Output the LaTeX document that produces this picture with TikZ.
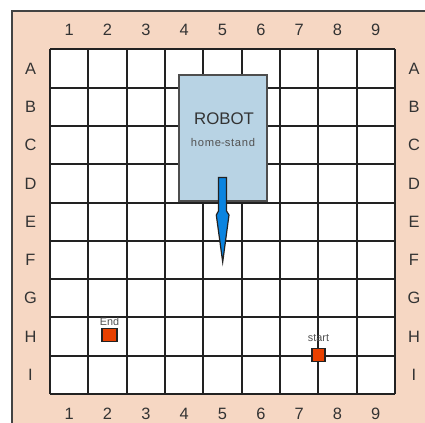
\documentclass[tikz,border=0pt]{standalone}
\usepackage{fontspec}
\setmainfont{Liberation Sans}
\usepackage{tikz}
\usetikzlibrary{positioning}
\definecolor{framepeach}{HTML}{F6D7C3}
\definecolor{robotblue}{HTML}{B8D3E4}
\definecolor{arrowblue}{HTML}{0A84E0}
\definecolor{markred}{HTML}{E84000}
\definecolor{inkgrey}{HTML}{222222}
\definecolor{textgrey}{HTML}{333333}

\begin{document}
\begin{tikzpicture}[
      x=0.5pt, y=-0.5pt,
      gridline/.style={draw=inkgrey, line width=1pt},
      axislabel/.style={inner sep=0pt, text=textgrey, font=\fontsize{8.2}{9}\selectfont},
      robotbox/.style={
        draw=inkgrey!80,
        fill=robotblue,
        line width=0.8pt,
        minimum width=44pt,
        minimum height=63pt,
        inner sep=0pt
      },
      marker/.style={
        draw=inkgrey,
        fill=markred,
        line width=0.7pt,
        inner sep=0pt
      },
      smalltext/.style={inner sep=0pt, text=textgrey!85, font=\fontsize{5.4}{6}\selectfont}
    ]

    \useasboundingbox (0,0) rectangle (425,423);

    % frame
    \fill[framepeach] (12,11) rectangle (425,423);
    \draw[inkgrey!85, line width=0.8pt] (12,423) -- (12,11) -- (425,11);

    % board
    \fill[white] (50,49.5) rectangle (395,394);
    \foreach \k in {0,...,9} {
      \draw[gridline] ({50+38.33*\k},49.5) -- ({50+38.33*\k},394);
      \draw[gridline] (50,{49.5+38.28*\k}) -- (395,{49.5+38.28*\k});
    }

    % column numbers
    \foreach \i in {1,...,9} {
      \node[axislabel] (top\i) at ({50+38.33*(\i-0.5)},30) {\i};
      \node[axislabel] (bot\i) at ({50+38.33*(\i-0.5)},413.5) {\i};
    }

    % row letters
    \foreach \r [count=\j] in {A,B,C,D,E,F,G,H,I} {
      \node[axislabel] (left\r) at (30.5,{49.5+38.28*(\j-0.5)}) {\r};
      \node[axislabel] (right\r) at (414,{49.5+38.28*(\j-0.5)}) {\r};
    }

    % robot home stand
    \node[robotbox] (robot) at (223,138) {};
    \node[inner sep=0pt, text=textgrey, font=\fontsize{8.4}{9}\selectfont]
      (robottitle) at (224,118.5) {ROBOT};
    \node[inner sep=0pt, text=textgrey!85, font=\fontsize{5.6}{6}\selectfont]
      (robotsub) at (223,142.5) {h\kern0.35pt o\kern0.35pt m\kern0.35pt e-s\kern0.35pt t\kern0.35pt a\kern0.35pt n\kern0.35pt d};

    % direction arrow
    \filldraw[fill=arrowblue, draw=inkgrey, line width=0.6pt]
      (218.5,177.5) -- (226.5,177.5) -- (226.5,211) -- (229,215)
      -- (222.7,262) -- (216.3,215) -- (218.5,211) -- cycle;

    % end and start
    \node[marker, minimum width=7.5pt, minimum height=6.5pt] (endsq) at (109.5,335.3) {};
    \node[smalltext] (endlbl) at (109.5,322) {End};

    \node[marker, minimum width=6.5pt, minimum height=6.5pt] (startsq) at (318.7,355.3) {};
    \node[smalltext] (startlbl) at (318.5,338) {start};

  \end{tikzpicture}
\end{document}
